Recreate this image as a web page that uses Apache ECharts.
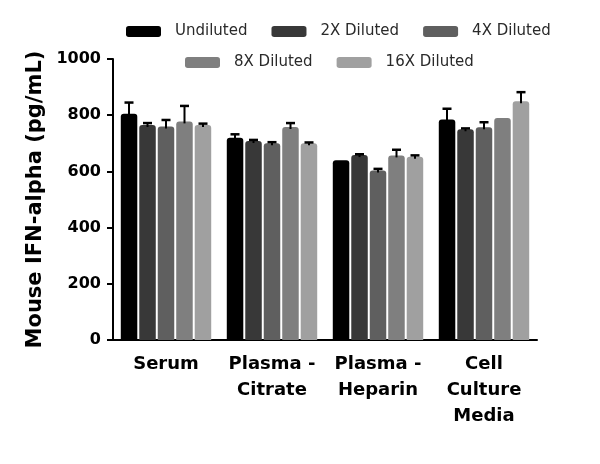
<!DOCTYPE html>
<html lang="en">
<head>
    <meta charset="UTF-8">
    <title>Mouse IFN-alpha</title>
    <script src="https://cdn.jsdelivr.net/npm/echarts@6/dist/echarts.min.js"></script>
</head>
<body style="margin: 0; background: #fff;">
<div id="container" style="width: 600px; height: 464px;"></div>
<script type="text/javascript">

    // sample types on the x axis
    let categories = ['Serum', 'Plasma -\nCitrate', 'Plasma -\nHeparin', 'Cell\nCulture\nMedia'];
    let seriesNames = ['Undiluted', '2X Diluted', '4X Diluted', '8X Diluted', '16X Diluted'];
    let yTicks = [0, 200, 400, 600, 800, 1000];

    // mean values, one array per dilution (pg/mL)
    let undiluted = [805, 720, 640, 785];
    let diluted2x = [765, 708, 658, 750];
    let diluted4x = [760, 700, 603, 757];
    let diluted8x = [778, 758, 657, 790];
    let diluted16x = [765, 700, 652, 850];

    // upper error (SD)
    let err1 = [40, 12, 0, 38];
    let err2 = [7, 4, 3, 3];
    let err4 = [23, 4, 6, 18];
    let err8 = [55, 14, 20, 0];
    let err16 = [5, 3, 5, 32];

    let colors = ['#000000', '#383838', '#5f5f5f', '#7f7f7f', '#a0a0a0'];
    let values = [undiluted, diluted2x, diluted4x, diluted8x, diluted16x];
    let errors = [err1, err2, err4, err8, err16];

    let barW = 16.5;
    let step = 18.5;
    let font = 'DejaVu Sans';

    let chart = echarts.init(document.getElementById('container'));

    function errRender(offset) {
        return function (params, api) {
            let i = api.value(0), v = api.value(1), e = api.value(2);
            if (!e) return null;
            let p0 = api.coord([i, v]);
            let p1 = api.coord([i, v + e]);
            let x = p0[0] + offset;
            return {
                type: 'group',
                children: [{
                    type: 'line',
                    shape: {x1: x, y1: p0[1] + 2, x2: x, y2: p1[1]},
                    style: {stroke: '#000', lineWidth: 2}
                }, {
                    type: 'line',
                    shape: {x1: x - 4.5, y1: p1[1], x2: x + 4.5, y2: p1[1]},
                    style: {stroke: '#000', lineWidth: 2.5}
                }]
            };
        };
    }

    let series = [];
    seriesNames.forEach(function (name, k) {
        series.push({
            type: 'bar',
            name: name,
            data: values[k],
            barWidth: barW,
            barGap: '12%',
            itemStyle: {color: colors[k], borderRadius: [3, 3, 0, 0]}
        });
    });
    seriesNames.forEach(function (name, k) {
        series.push({
            type: 'custom',
            name: name + ' err',
            renderItem: errRender((k - 2) * step),
            data: values[k].map(function (v, i) { return [i, v, errors[k][i]]; }),
            z: 5
        });
    });

    // the gap between icon and text in the reference is wider than echarts' default
    let legendText = {fontFamily: font, fontSize: 15, color: '#2a2a2a', padding: [0, 0, 0, 9]};

    let option = {
        animation: false,
        color: colors,
        grid: {left: 113, right: 63, top: 59, bottom: 124},
        legend: [{
            data: seriesNames.slice(0, 3),
            left: 121, top: 19,
            icon: 'roundRect', itemWidth: 35, itemHeight: 11, itemGap: 24,
            textStyle: legendText
        }, {
            data: seriesNames.slice(3),
            left: 180, top: 50,
            icon: 'roundRect', itemWidth: 35, itemHeight: 11, itemGap: 24,
            textStyle: legendText
        }],
        xAxis: {
            type: 'category',
            data: categories,
            axisLine: {lineStyle: {color: '#000', width: 2}},
            axisTick: {alignWithLabel: true, length: 7, lineStyle: {color: '#000', width: 2}},
            axisLabel: {
                fontFamily: font, fontWeight: 'bold', fontSize: 18, color: '#000',
                lineHeight: 26, margin: 11, interval: 0
            }
        },
        yAxis: {
            type: 'value',
            min: yTicks[0], max: yTicks[yTicks.length - 1], interval: 200,
            name: 'Mouse IFN-alpha (pg/mL)',
            nameLocation: 'middle',
            nameGap: 57,
            nameTextStyle: {fontFamily: font, fontWeight: 'bold', fontSize: 21, color: '#000'},
            splitLine: {show: false},
            axisLine: {show: true, lineStyle: {color: '#000', width: 2}},
            axisTick: {show: true, length: 6, lineStyle: {color: '#000', width: 2}},
            axisLabel: {
                fontFamily: font, fontWeight: 'bold', fontSize: 16, color: '#000', margin: 12,
                formatter: function (v) { return String(v); }
            }
        },
        series: series
    };
    chart.setOption(option);

</script>
</body>
</html>
